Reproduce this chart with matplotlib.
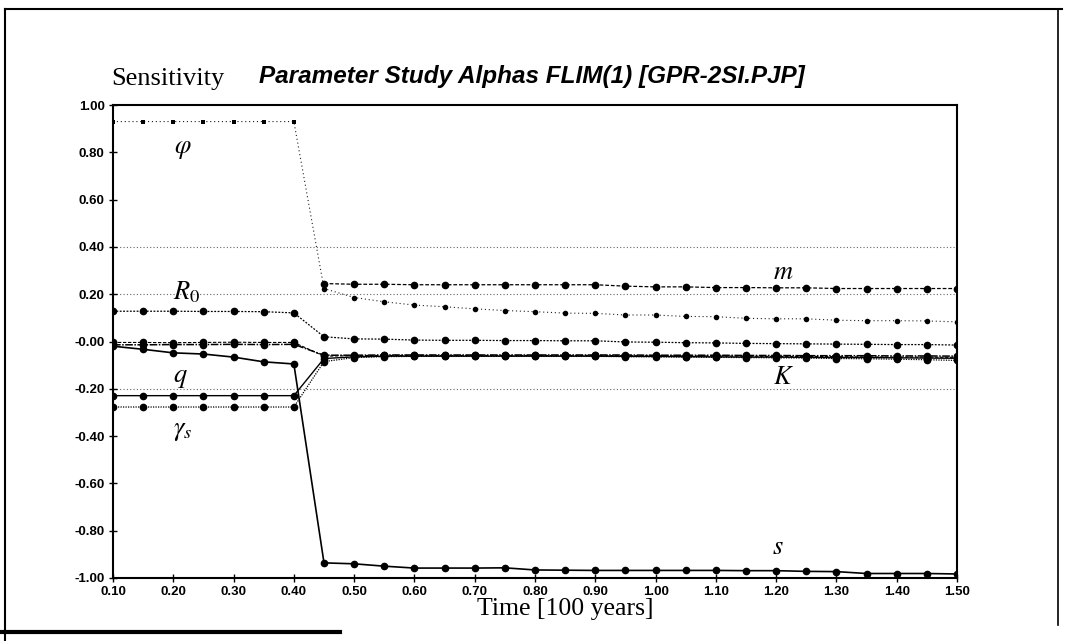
import matplotlib
matplotlib.use("Agg")
import matplotlib.pyplot as plt
from matplotlib.lines import Line2D

plt.rcParams['mathtext.fontset'] = 'stix'

nan = float("nan")

# Time axis [100 years]
time = [0.10, 0.15, 0.20, 0.25, 0.30, 0.35, 0.40, 0.45, 0.50, 0.55,
        0.60, 0.65, 0.70, 0.75, 0.80, 0.85, 0.90, 0.95, 1.00, 1.05,
        1.10, 1.15, 1.20, 1.25, 1.30, 1.35, 1.40, 1.45, 1.50]

# Sensitivity of each parameter
phi = [0.93, 0.93, 0.93, 0.93, 0.93, 0.93, 0.93, 0.224, 0.186, 0.168,
       0.154, 0.147, 0.138, 0.131, 0.126, 0.120, 0.119, 0.112, 0.112, 0.106,
       0.105, 0.098, 0.096, 0.096, 0.090, 0.088, 0.088, 0.087, 0.083]
m = [nan, nan, nan, nan, nan, nan, nan, 0.245, 0.242, 0.242,
     0.240, 0.240, 0.240, 0.240, 0.240, 0.240, 0.240, 0.234, 0.231, 0.231,
     0.228, 0.228, 0.227, 0.227, 0.224, 0.224, 0.224, 0.224, 0.224]
r0 = [0.128, 0.128, 0.128, 0.127, 0.127, 0.126, 0.121, 0.020, 0.011, 0.010,
      0.006, 0.005, 0.005, 0.004, 0.004, 0.003, 0.003, -0.002, -0.003, -0.005,
      -0.006, -0.008, -0.009, -0.010, -0.011, -0.012, -0.013, -0.013, -0.015]
k = [-0.014, -0.014, -0.013, -0.013, -0.012, -0.013, -0.012, -0.058, -0.058, -0.057,
     -0.057, -0.057, -0.057, -0.057, -0.057, -0.057, -0.057, -0.057, -0.058, -0.058,
     -0.058, -0.059, -0.059, -0.060, -0.060, -0.060, -0.061, -0.061, -0.062]
other = [-0.004, -0.004, -0.005, -0.004, -0.003, -0.004, -0.004, -0.062, -0.060, -0.059,
         -0.059, -0.059, -0.059, -0.059, -0.059, -0.059, -0.059, -0.060, -0.060, -0.061,
         -0.061, -0.062, -0.063, -0.063, -0.064, -0.065, -0.066, -0.066, -0.067]
q = [-0.229, -0.229, -0.229, -0.229, -0.229, -0.229, -0.229, -0.072, -0.065, -0.062,
     -0.062, -0.062, -0.062, -0.062, -0.062, -0.062, -0.062, -0.063, -0.063, -0.064,
     -0.065, -0.066, -0.066, -0.067, -0.068, -0.068, -0.069, -0.070, -0.071]
gamma_s = [-0.277, -0.277, -0.277, -0.277, -0.277, -0.277, -0.277, -0.085, -0.068, -0.064,
           -0.063, -0.063, -0.063, -0.063, -0.063, -0.063, -0.063, -0.064, -0.065, -0.066,
           -0.067, -0.068, -0.069, -0.070, -0.072, -0.073, -0.075, -0.077, -0.080]
s = [-0.020, -0.033, -0.048, -0.053, -0.066, -0.086, -0.095, -0.936, -0.940, -0.950,
     -0.958, -0.958, -0.958, -0.957, -0.966, -0.967, -0.968, -0.968, -0.968, -0.968,
     -0.968, -0.969, -0.969, -0.972, -0.973, -0.981, -0.981, -0.981, -0.983]

y_ticks = [1.0, 0.8, 0.6, 0.4, 0.2, 0.0, -0.2, -0.4, -0.6, -0.8, -1.0]
y_tick_labels = ["1.00", "0.80", "0.60", "0.40", "0.20", "-0.00",
                 "-0.20", "-0.40", "-0.60", "-0.80", "-1.00"]
x_ticks = [0.1, 0.2, 0.3, 0.4, 0.5, 0.6, 0.7, 0.8, 0.9, 1.0,
           1.1, 1.2, 1.3, 1.4, 1.5]
x_tick_labels = ["0.10", "0.20", "0.30", "0.40", "0.50", "0.60", "0.70", "0.80",
                 "0.90", "1.00", "1.10", "1.20", "1.30", "1.40", "1.50"]
grid_levels = [0.4, 0.2, -0.2]

W, H = 1066, 641
fig = plt.figure(figsize=(W / 100, H / 100), dpi=100)
fig.patch.set_facecolor("white")

ax = fig.add_axes([113 / W, 1 - 578 / H, (957 - 113) / W, (578 - 105) / H])
ax.set_xlim(0.10, 1.50)
ax.set_ylim(-1.0, 1.0)

for lvl in grid_levels:
    ax.axhline(lvl, color="#666666", lw=0.8, ls=(0, (1, 2)), zorder=1)

# phi: thin dotted trace, small square dots in the first period
ax.plot(time, phi, ls=(0, (1, 2.5)), lw=0.8, color="#222222", zorder=2)
phi_sizes = [9] * 7 + [16] * 22
phi_marks = ["s"] * 7 + ["o"] * 22
for t, v, sz, mk in zip(time, phi, phi_sizes, phi_marks):
    ax.scatter([t], [v], s=sz, marker=mk, color="black", zorder=3, linewidths=0)

series = [
    (m, dict(ls=(0, (3, 1.5)), lw=0.9, color="black", ms=4.5)),
    (r0, dict(ls=(0, (1.5, 1.2)), lw=0.9, color="black", ms=4.5)),
    (other, dict(ls=(0, (3, 1.5)), lw=0.8, color="black", ms=4.5)),
    (k, dict(ls=(0, (5, 1, 1, 1)), lw=1.1, color="black", ms=4.5)),
    (q, dict(ls="-", lw=1.0, color="black", ms=4.5)),
    (gamma_s, dict(ls=(0, (1, 1)), lw=0.9, color="black", ms=4.5)),
    (s, dict(ls="-", lw=1.2, color="black", ms=4.5)),
]
for values, style in series:
    ax.plot(time, values, marker="o", mfc="black", mec="black", zorder=3, **style)

label_font = dict(fontsize=19, color="black", ha="center", va="center")
ax.text(0.216, 0.817, r"$\varphi$", **label_font)
ax.text(0.222, 0.209, r"$R_0$", **label_font)
ax.text(0.211, -0.149, r"$q$", **label_font)
ax.text(0.216, -0.374, r"$\gamma_s$", **label_font)
ax.text(1.212, 0.294, r"$m$", **label_font)
ax.text(1.212, -0.149, r"$K$", **label_font)
ax.text(1.202, -0.867, r"$s$", **label_font)

ax.set_yticks(y_ticks)
ax.set_yticklabels(y_tick_labels)
ax.set_xticks(x_ticks)
ax.set_xticklabels(x_tick_labels)
ax.tick_params(direction="inout", length=6, width=1.0, color="black",
               labelsize=9.5, pad=3)
for lab in ax.get_xticklabels() + ax.get_yticklabels():
    lab.set_fontfamily("Liberation Sans")
    lab.set_fontweight("bold")
for sp in ax.spines.values():
    sp.set_linewidth(1.5)
    sp.set_color("black")

# headings and axis caption
fig.text(168 / W, 1 - 79 / H, "Sensitivity", family="Liberation Serif",
         fontsize=19, ha="center", va="center")
fig.text(532 / W, 1 - 76 / H, "Parameter Study Alphas FLIM(1) [GPR-2SI.PJP]",
         family="Liberation Sans", style="italic", weight="bold",
         fontsize=17.5, ha="center", va="center")
fig.text(565 / W, 1 - 609 / H, "Time [100 years]", family="Liberation Serif",
         fontsize=18.5, ha="center", va="center")

# page frame
def frame_line(x0, y0, x1, y1, lw):
    fig.add_artist(Line2D([x0 / W, x1 / W], [1 - y0 / H, 1 - y1 / H],
                          transform=fig.transFigure, color="black", lw=lw))

frame_line(5, 9, 1062, 9, 1.5)
frame_line(5, 9, 5, 641, 1.5)
frame_line(1058, 9, 1058, 625, 1.2)
frame_line(0, 632, 340, 632, 3.0)

fig.savefig("out.png", dpi=100, facecolor="white")
